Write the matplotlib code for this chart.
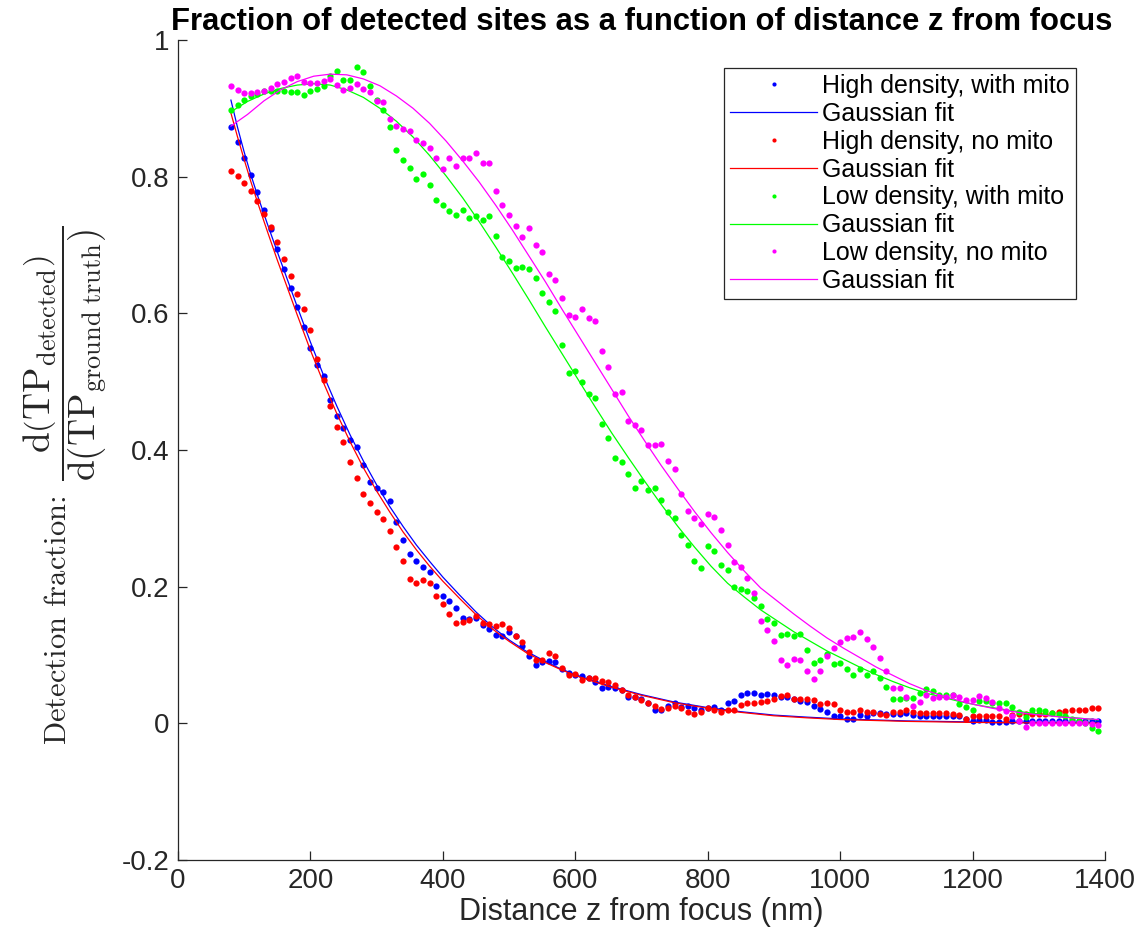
import numpy as np
import matplotlib
matplotlib.use("Agg")
import matplotlib.pyplot as plt

plt.rcParams['font.family'] = ['Liberation Sans', 'DejaVu Sans']
plt.rcParams['mathtext.fontset'] = 'cm'

# sample positions (nm) shared by all four data series
z_nm = list(range(80, 1400, 10))

high_with_mito = [
    0.872, 0.851, 0.828, 0.802, 0.778, 0.751, 0.723, 0.694, 0.665, 0.637,
    0.609, 0.580, 0.549, 0.524, 0.508, 0.473, 0.450, 0.432, 0.415, 0.405,
    0.378, 0.353, 0.344, 0.339, 0.325, 0.294, 0.268, 0.248, 0.237, 0.229,
    0.222, 0.201, 0.187, 0.179, 0.168, 0.154, 0.153, 0.154, 0.144, 0.138,
    0.129, 0.128, 0.134, 0.128, 0.113, 0.098, 0.086, 0.090, 0.091, 0.090,
    0.080, 0.073, 0.071, 0.069, 0.066, 0.060, 0.052, 0.053, 0.051, 0.048,
    0.039, 0.038, 0.035, 0.030, 0.020, 0.019, 0.025, 0.030, 0.024, 0.025,
    0.023, 0.019, 0.022, 0.024, 0.020, 0.029, 0.033, 0.041, 0.044, 0.044,
    0.041, 0.043, 0.041, 0.039, 0.039, 0.036, 0.033, 0.031, 0.025, 0.021,
    0.016, 0.011, 0.011, 0.007, 0.007, 0.012, 0.011, 0.015, 0.015, 0.014,
    0.014, 0.014, 0.015, 0.012, 0.010, 0.010, 0.010, 0.010, 0.010, 0.010,
    0.010, 0.007, 0.003, 0.005, 0.005, 0.002, 0.002, 0.002, 0.003, 0.003,
    0.004, 0.004, 0.004, 0.004, 0.004, 0.003, 0.003, 0.003, 0.003, 0.003,
    0.003, 0.003,
]

high_no_mito = [
    0.808, 0.801, 0.791, 0.779, 0.764, 0.746, 0.726, 0.705, 0.680, 0.654,
    0.628, 0.607, 0.576, 0.533, 0.503, 0.465, 0.433, 0.411, 0.382, 0.359,
    0.336, 0.323, 0.309, 0.299, 0.282, 0.258, 0.237, 0.211, 0.206, 0.209,
    0.205, 0.186, 0.175, 0.160, 0.147, 0.148, 0.151, 0.157, 0.147, 0.145,
    0.143, 0.145, 0.139, 0.128, 0.119, 0.104, 0.092, 0.092, 0.103, 0.099,
    0.081, 0.071, 0.072, 0.063, 0.067, 0.067, 0.062, 0.060, 0.056, 0.049,
    0.041, 0.039, 0.034, 0.029, 0.025, 0.021, 0.023, 0.026, 0.023, 0.017,
    0.013, 0.017, 0.022, 0.020, 0.016, 0.019, 0.019, 0.027, 0.030, 0.029,
    0.031, 0.032, 0.036, 0.040, 0.042, 0.036, 0.036, 0.035, 0.034, 0.028,
    0.030, 0.028, 0.020, 0.016, 0.016, 0.019, 0.016, 0.016, 0.013, 0.012,
    0.016, 0.016, 0.019, 0.017, 0.015, 0.015, 0.015, 0.015, 0.015, 0.013,
    0.012, 0.007, 0.011, 0.011, 0.011, 0.011, 0.010, 0.007, 0.012, 0.013,
    0.014, 0.013, 0.014, 0.014, 0.015, 0.017, 0.018, 0.019, 0.020, 0.020,
    0.022, 0.022,
]

low_with_mito = [
    0.897, 0.905, 0.912, 0.918, 0.921, 0.925, 0.925, 0.925, 0.925, 0.924,
    0.924, 0.920, 0.926, 0.928, 0.933, 0.947, 0.955, 0.941, 0.941, 0.960,
    0.953, 0.933, 0.912, 0.897, 0.872, 0.839, 0.825, 0.812, 0.797, 0.804,
    0.788, 0.766, 0.758, 0.750, 0.744, 0.751, 0.740, 0.743, 0.736, 0.743,
    0.713, 0.683, 0.676, 0.667, 0.668, 0.665, 0.651, 0.629, 0.617, 0.603,
    0.553, 0.512, 0.516, 0.500, 0.482, 0.476, 0.438, 0.417, 0.388, 0.383,
    0.365, 0.345, 0.354, 0.341, 0.345, 0.327, 0.309, 0.300, 0.276, 0.261,
    0.238, 0.227, 0.260, 0.252, 0.232, 0.225, 0.199, 0.196, 0.194, 0.183,
    0.171, 0.153, 0.147, 0.129, 0.131, 0.128, 0.131, 0.107, 0.088, 0.093,
    0.101, 0.087, 0.088, 0.079, 0.071, 0.080, 0.070, 0.076, 0.066, 0.053,
    0.035, 0.035, 0.037, 0.037, 0.045, 0.050, 0.047, 0.041, 0.042, 0.042,
    0.028, 0.024, 0.019, 0.033, 0.033, 0.030, 0.030, 0.029, 0.024, 0.016,
    0.009, 0.020, 0.019, 0.018, 0.015, 0.014, 0.010, 0.007, 0.003, 0.000,
    -0.007, -0.012,
]

low_no_mito = [
    0.933, 0.927, 0.923, 0.923, 0.924, 0.926, 0.930, 0.935, 0.939, 0.944,
    0.948, 0.938, 0.937, 0.937, 0.940, 0.943, 0.934, 0.927, 0.930, 0.936,
    0.928, 0.924, 0.911, 0.909, 0.884, 0.874, 0.869, 0.867, 0.854, 0.849,
    0.842, 0.828, 0.811, 0.828, 0.816, 0.828, 0.828, 0.834, 0.820, 0.820,
    0.779, 0.759, 0.744, 0.728, 0.711, 0.725, 0.700, 0.689, 0.658, 0.649,
    0.622, 0.598, 0.595, 0.606, 0.593, 0.589, 0.545, 0.521, 0.482, 0.485,
    0.443, 0.436, 0.429, 0.407, 0.408, 0.409, 0.384, 0.372, 0.335, 0.311,
    0.300, 0.292, 0.306, 0.302, 0.283, 0.261, 0.236, 0.228, 0.213, 0.191,
    0.150, 0.137, 0.121, 0.093, 0.086, 0.094, 0.092, 0.076, 0.065, 0.076,
    0.098, 0.110, 0.119, 0.125, 0.127, 0.133, 0.124, 0.112, 0.095, 0.076,
    0.052, 0.051, 0.038, 0.025, 0.031, 0.042, 0.037, 0.038, 0.038, 0.041,
    0.038, 0.034, 0.034, 0.040, 0.037, 0.031, 0.023, 0.018, 0.010, 0.004,
    -0.006, 0.001, 0.001, 0.000, 0.000, 0.000, 0.000, 0.000, 0.000, 0.000,
    -0.001, -0.002,
]

# Gaussian fit curves
fit_z_high = [80, 90, 100, 110, 120, 135, 150, 165, 180, 200, 220, 240, 260,
              280, 300, 320, 340, 360, 380, 400, 425, 450, 475, 500, 525,
              550, 575, 600, 650, 700, 750, 800, 850, 900, 950, 1000, 1100,
              1200, 1300, 1390]
fit_high_with = [0.912, 0.872, 0.836, 0.803, 0.773, 0.731, 0.690, 0.650,
                 0.610, 0.558, 0.509, 0.464, 0.422, 0.384, 0.349, 0.317,
                 0.288, 0.261, 0.237, 0.214, 0.188, 0.163, 0.141, 0.122,
                 0.106, 0.093, 0.081, 0.071, 0.055, 0.042, 0.031, 0.023,
                 0.017, 0.012, 0.009, 0.0065, 0.0035, 0.002, 0.001, 0.0008]
fit_high_no = [0.893, 0.858, 0.825, 0.793, 0.763, 0.720, 0.678, 0.638,
               0.598, 0.546, 0.498, 0.453, 0.412, 0.374, 0.340, 0.309,
               0.280, 0.254, 0.230, 0.208, 0.183, 0.159, 0.138, 0.120,
               0.104, 0.091, 0.080, 0.070, 0.054, 0.041, 0.030, 0.022,
               0.016, 0.011, 0.008, 0.0055, 0.0028, 0.0013, 0.0005, 0.0002]

fit_z_low = [80, 105, 130, 155, 180, 205, 230, 255, 280, 305, 330, 355, 380,
             405, 430, 455, 480, 505, 530, 555, 580, 605, 630, 655, 680, 705,
             730, 755, 780, 805, 830, 855, 880, 905, 930, 955, 980, 1005,
             1030, 1055, 1080, 1105, 1130, 1155, 1180, 1205, 1230, 1255,
             1280, 1305, 1330, 1355, 1390]
fit_low_with = [0.895, 0.910, 0.921, 0.929, 0.934, 0.936, 0.934, 0.927,
                0.916, 0.900, 0.881, 0.858, 0.831, 0.801, 0.769, 0.734,
                0.697, 0.659, 0.620, 0.580, 0.541, 0.502, 0.463, 0.425,
                0.389, 0.354, 0.320, 0.288, 0.258, 0.230, 0.205, 0.185,
                0.166, 0.150, 0.134, 0.120, 0.106, 0.094, 0.082, 0.071,
                0.061, 0.052, 0.044, 0.038, 0.032, 0.027, 0.023, 0.019,
                0.016, 0.013, 0.010, 0.008, 0.005]
fit_low_no = [0.874, 0.891, 0.911, 0.927, 0.939, 0.947, 0.950, 0.949,
              0.943, 0.933, 0.918, 0.900, 0.878, 0.852, 0.823, 0.792,
              0.758, 0.722, 0.684, 0.646, 0.606, 0.567, 0.528, 0.489,
              0.450, 0.413, 0.377, 0.343, 0.310, 0.279, 0.250, 0.223,
              0.198, 0.179, 0.160, 0.142, 0.125, 0.110, 0.096, 0.082,
              0.070, 0.058, 0.048, 0.040, 0.033, 0.027, 0.022, 0.018,
              0.0145, 0.0118, 0.0095, 0.0076, 0.0055]

fig = plt.figure(figsize=(11.4, 9.32), dpi=100)
ax = fig.add_axes([0.1561, 0.0773, 0.8132, 0.8798])

dot = dict(linestyle='none', marker='o', markersize=4.5, markeredgewidth=0)
ax.plot(z_nm, high_with_mito, color='#0000ff', label='High density, with mito', **dot)
ax.plot(fit_z_high, fit_high_with, color='#0000ff', lw=0.9, label='Gaussian fit')
ax.plot(z_nm, high_no_mito, color='#ff0000', label='High density, no mito', **dot)
ax.plot(fit_z_high, fit_high_no, color='#ff0000', lw=0.9, label='Gaussian fit')
ax.plot(z_nm, low_with_mito, color='#00ff00', label='Low density, with mito', **dot)
ax.plot(fit_z_low, fit_low_with, color='#00ff00', lw=0.9, label='Gaussian fit')
ax.plot(z_nm, low_no_mito, color='#ff00ff', label='Low density, no mito', **dot)
ax.plot(fit_z_low, fit_low_no, color='#ff00ff', lw=0.9, label='Gaussian fit')

ax.set_xlim(0, 1400)
ax.set_ylim(-0.2, 1)
ax.set_xticks(range(0, 1401, 200))
ax.set_yticks([-0.2, 0, 0.2, 0.4, 0.6, 0.8, 1])
ax.set_yticklabels(['-0.2', '0', '0.2', '0.4', '0.6', '0.8', '1'])

for s in ['top', 'right']:
    ax.spines[s].set_visible(False)
for s in ['left', 'bottom']:
    ax.spines[s].set_color('#262626')
    ax.spines[s].set_linewidth(0.9)
ax.tick_params(direction='in', length=6.5, width=0.9, color='#262626',
               labelsize=20, labelcolor='#262626', pad=6)

ax.set_title('Fraction of detected sites as a function of distance z from focus',
             fontsize=22.3, fontweight='bold', pad=7)
ax.set_xlabel('Distance z from focus (nm)', fontsize=22, color='#262626', labelpad=2)

# y label: plain part plus a larger displayed fraction
ax.text(-0.1208, 0.1402, r'$\text{Detection fraction:}$', transform=ax.transAxes,
        rotation=90, rotation_mode='anchor', ha='left', va='baseline',
        fontsize=22, color='#262626')
ax.text(-0.1220, 0.6180,
        r'$\dfrac{\mathrm{d}\left(\mathrm{TP}_{\mathrm{detected}}\right)}'
        r'{\mathrm{d}\left(\mathrm{TP}_{\mathrm{ground\ truth}}\right)}$',
        transform=ax.transAxes, rotation=90, rotation_mode='anchor',
        ha='center', va='center', fontsize=27, color='#262626')

leg = ax.legend(loc='upper right', bbox_to_anchor=(0.9687, 0.9659), borderaxespad=0,
                fontsize=18, handlelength=3.5, handletextpad=0.2, labelspacing=0.155,
                borderpad=0.24, fancybox=False, framealpha=1, edgecolor='#262626')
leg.get_frame().set_linewidth(0.9)
for h in leg.legend_handles:
    if h.get_marker() == 'o':
        h.set_markersize(3.0)

fig.savefig('out.png', dpi=100)
